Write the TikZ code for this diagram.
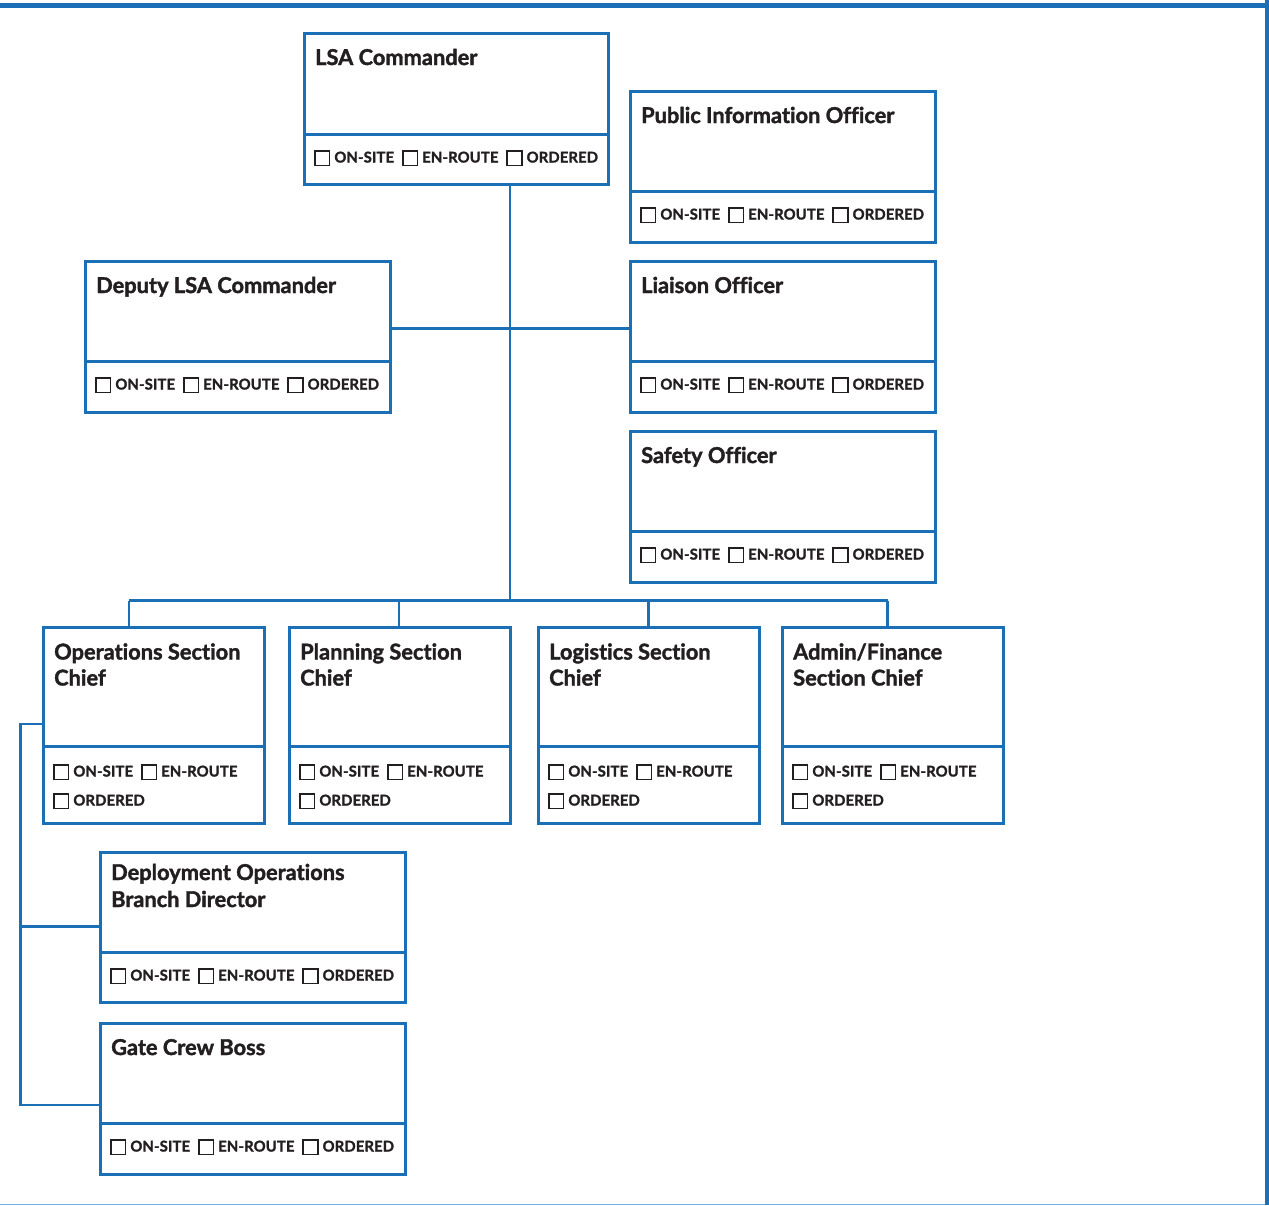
\documentclass[tikz,border=0pt]{standalone}
\usepackage{fontspec}
\setmainfont{Lato}[Ligatures=NoCommon, BoldFeatures={FakeBold=1.6}]
\definecolor{lsablue}{HTML}{1B6FB7}
\definecolor{lsalight}{HTML}{6FB0E2}
\definecolor{txt}{HTML}{231F20}
\newcommand\cbx{{\setlength\fboxsep{0pt}\setlength\fboxrule{1.7pt}\raisebox{-2pt}{\fbox{\phantom{\rule{12.8pt}{12.8pt}}}}}\hspace{4pt}}
\newcommand\rowthree{\cbx ON-SITE\hspace{8pt}\cbx EN-ROUTE\hspace{8pt}\cbx ORDERED}
\tikzset{
  orgbox/.style={draw=lsablue, line width=2.5pt, anchor=north west, inner sep=0pt, fill=white},
  conn/.style={draw=lsablue, line width=2.5pt},
  ttl/.style={anchor=base west, inner sep=0pt, font=\fontsize{21.8}{27}\selectfont\bfseries, text=txt},
  chk/.style={anchor=base west, inner sep=0pt, font=\fontsize{14.8}{18}\selectfont\bfseries\addfontfeatures{LetterSpace=1}, text=txt},
}
% name, x, y, w, h, divider offset, title
\newcommand\obox[7]{%
  \node[orgbox, minimum width=#4pt, minimum height=#5pt] (#1) at (#2,#3) {};
  \draw[conn] ([yshift=-#6pt]#1.north west) -- ([yshift=-#6pt]#1.north east);
  \node[ttl] (#1-t) at ([xshift=12pt,yshift=-33pt]#1.north west) {#7};
  \node[chk] (#1-c) at ([xshift=11pt,yshift={-#6pt-28pt}]#1.north west) {\rowthree};
}
% section box: name, x, title line 1, title line 2
\newcommand\secbox[4]{%
  \node[orgbox, minimum width=221pt, minimum height=196pt] (#1) at (#2,626) {};
  \draw[conn] ([yshift=-120.5pt]#1.north west) -- ([yshift=-120.5pt]#1.north east);
  \node[ttl] (#1-t1) at ([xshift=12pt,yshift=-33.5pt]#1.north west) {#3};
  \node[ttl] (#1-t2) at ([xshift=12pt,yshift=-59.5pt]#1.north west) {#4};
  \node[chk] (#1-c1) at ([xshift=11pt,yshift=-150.5pt]#1.north west) {\cbx ON-SITE\hspace{8pt}\cbx EN-ROUTE};
  \node[chk] (#1-c2) at ([xshift=11pt,yshift=-179.5pt]#1.north west) {\cbx ORDERED};
}
\begin{document}
\begin{tikzpicture}[x=1pt,y=-1pt]
\useasboundingbox (0,0) rectangle (1269,1205);
% frame
\draw[lsablue, line width=5pt] (0,5.5) -- (1269,5.5);
\draw[lsablue, line width=4pt] (1267,0) -- (1267,1205);
\draw[lsalight, line width=1.5pt] (0,1204.4) -- (1265,1204.4);

% coordinates for connectors
\coordinate (tr) at (510,600);
\coordinate (hy) at (510,328.5);
\coordinate (b1) at (129,600.5);
\coordinate (b2) at (399,600.5);
\coordinate (b3) at (648.5,600.5);
\coordinate (b4) at (887.5,600.5);
\coordinate (l1) at (20.5,724);
\coordinate (l2) at (20.5,926.5);
\coordinate (l3) at (20.5,1105);

% connectors (drawn first, under boxes)
\draw[conn] (510,183) -- (tr);
\draw[conn] (b1) -- (b4);
\draw[conn] (b1) -- (129,627);
\draw[conn] (b2) -- (399,627);
\draw[conn] (b3) -- (648.5,627);
\draw[conn] (b4) -- (887.5,627);

% boxes
\obox{lsa}{303}{32}{304}{151}{102.5}{LSA Commander}
\obox{pio}{629}{90}{305}{151}{101.5}{Public Information Officer}
\obox{dep}{84}{260}{305}{151}{101.5}{Deputy LSA Commander}
\obox{lia}{629}{260}{305}{151}{101.5}{Liaison Officer}
\obox{saf}{629}{430}{305}{151}{101.5}{Safety Officer}
\secbox{ops}{42}{Operations Section}{Chief}
\secbox{pla}{288}{Planning Section}{Chief}
\secbox{log}{537}{Logistics Section}{Chief}
\secbox{adm}{781}{Admin/Finance}{Section Chief}
\node[orgbox, minimum width=305pt, minimum height=150pt] (dob) at (99,851) {};
\draw[conn] ([yshift=-101.5pt]dob.north west) -- ([yshift=-101.5pt]dob.north east);
\node[ttl] (dob-t1) at ([xshift=12pt,yshift=-29pt]dob.north west) {Deployment Operations};
\node[ttl] (dob-t2) at ([xshift=12pt,yshift=-56pt]dob.north west) {Branch Director};
\node[chk] (dob-c) at ([xshift=11pt,yshift=-129.5pt]dob.north west) {\rowthree};
\obox{gcb}{99}{1022}{305}{151}{101.5}{Gate Crew Boss}

% connectors touching box sides
\draw[conn] (dep.east |- hy) -- (lia.west |- hy);
\draw[conn] (ops.west |- l1) -- (l1) -- (l3) -- (gcb.west |- l3);
\draw[conn] (l2) -- (dob.west |- l2);
\end{tikzpicture}
\end{document}
